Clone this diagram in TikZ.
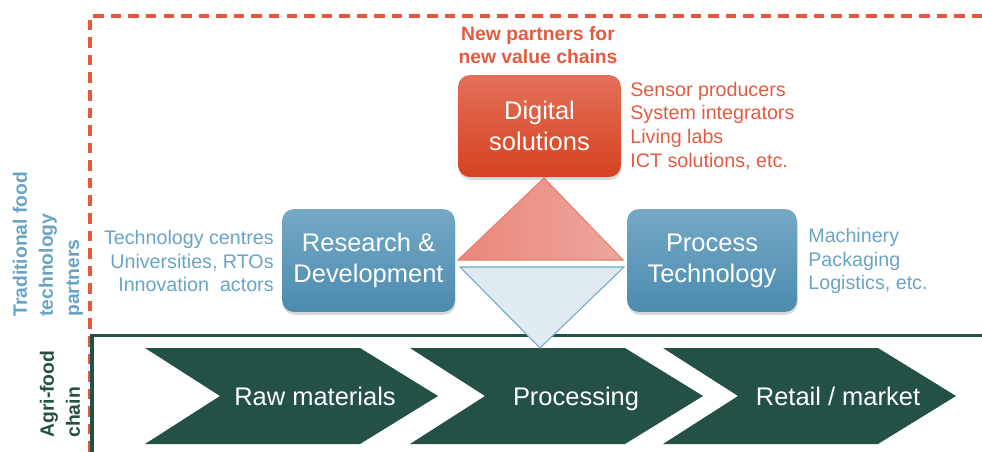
\documentclass[tikz,border=0pt]{standalone}
\usepackage{fontspec}
\setmainfont{Liberation Sans}
\usetikzlibrary{shadows}

\definecolor{dashred}{HTML}{E8563E}
\definecolor{redtop}{HTML}{E4705B}
\definecolor{redbot}{HTML}{D5421F}
\definecolor{bluetop}{HTML}{75A9C6}
\definecolor{bluebot}{HTML}{4B8BAE}
\definecolor{textblue}{HTML}{6AA4C5}
\definecolor{textred}{HTML}{E25B40}
\definecolor{chaingreen}{HTML}{245146}
\definecolor{trired}{HTML}{EA877A}
\definecolor{triredlight}{HTML}{EEA69D}
\definecolor{triblue}{HTML}{DFEAF1}
\definecolor{triblueline}{HTML}{72A9C8}

\tikzset{
    box/.style={rounded corners=0.24cm, minimum height=2.06cm, text=white,
        align=center, font=\fontsize{14.5}{17.6}\selectfont,
        drop shadow={opacity=0.3, shadow xshift=0.4pt, shadow yshift=-1.6pt}},
    bluebox/.style={box, top color=bluetop, bottom color=bluebot},
    redbox/.style={box, top color=redtop, bottom color=redbot},
    partners/.style={font=\fontsize{11.2}{13.6}\selectfont, inner sep=0pt},
    sidelabel/.style={font=\bfseries\fontsize{11}{14.8}\selectfont, rotate=90,
        align=left, anchor=west, inner sep=0pt},
    chainstep/.style={fill=chaingreen},
    steplabel/.style={text=white, font=\fontsize{14.5}{17}\selectfont, anchor=base}
}

\begin{document}
\begin{tikzpicture}[x=0.02cm, y=-0.02cm]
    \useasboundingbox (0,0) rectangle (982,452);

    % frames
    \draw[dashred, line width=2pt, dash pattern=on 6pt off 4pt]
        (90,452) -- (90,16) -- (982,16);
    \draw[chaingreen, line width=1.9pt] (92,452) -- (92,335.5) -- (982,335.5);

    % side labels
    \node[sidelabel, text=textblue] (tradlabel) at (48,317)
        {Traditional food\\technology\\partners};
    \node[sidelabel, text=chaingreen] (agrilabel) at (60,438)
        {Agri-food\\chain};

    % agri-food chain
    \foreach \x/\d/\name/\label in {145/170/raw/{Raw materials}, 410/166/proc/{Processing}, 663/175/retail/{Retail / market}}{
        \fill[chainstep] (\x,348) -- (\x+215,348) -- (\x+293,396) -- (\x+215,444)
            -- (\x,444) -- (\x+75,396) -- cycle;
        \node[steplabel] (\name) at (\x+\d,405) {\label};
    }

    % triangles
    \draw[trired!80!dashred, line width=0.6pt, left color=trired, right color=triredlight]
        (458,260) -- (544,178) -- (623,260) -- cycle;
    \draw[triblueline, line width=0.6pt, fill=triblue]
        (460,267) -- (624,267) -- (540,348) -- cycle;

    % boxes
    \node[redbox, minimum width=3.26cm, minimum height=2.04cm] (digital) at (539.5,126)
        {Digital\\solutions};
    \node[bluebox, minimum width=3.46cm] (rnd) at (368.5,260.5)
        {Research \&\\Development};
    \node[bluebox, minimum width=3.4cm] (proctech) at (712,260.5)
        {Process\\Technology};

    % partner lists
    \node[font=\bfseries\fontsize{11}{13}\selectfont, text=textred, align=center] (newtitle)
        at (538,45) {New partners for\\new value chains};
    \node[partners, text=textred, align=left, anchor=west] (digitallist) at (630,126)
        {Sensor producers\\System integrators\\Living labs\\ICT solutions, etc.};
    \node[partners, text=textblue, align=right, anchor=east] (rndlist) at (274,261)
        {Technology centres\\Universities, RTOs\\Innovation~ actors};
    \node[partners, text=textblue, align=left, anchor=west] (proclist) at (808,261)
        {Machinery\\Packaging\\Logistics, etc.};
\end{tikzpicture}
\end{document}
